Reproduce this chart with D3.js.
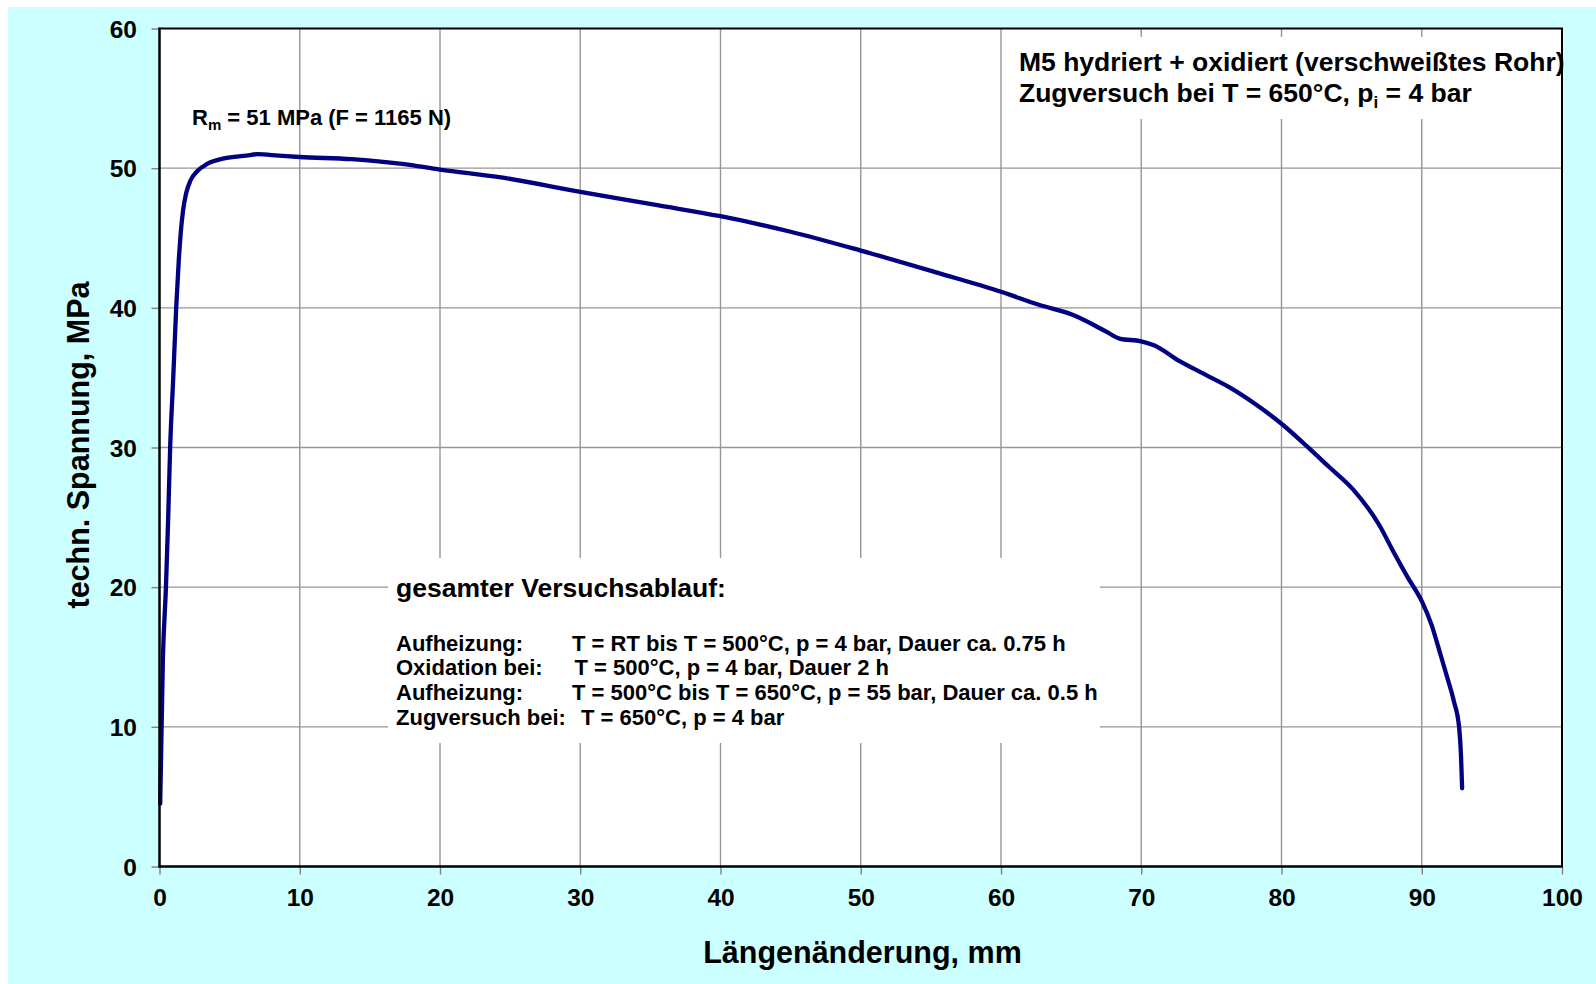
<!DOCTYPE html>
<html><head><meta charset="utf-8">
<script src="https://cdn.jsdelivr.net/npm/d3@7"></script>
<style>
body{margin:0;background:#fff}
svg{display:block}
text{font-family:"Liberation Sans",Arial,sans-serif;font-weight:bold;fill:#000}
</style>
</head><body>
<svg id="chart" width="1596" height="984"></svg>
<script>
// ---------------- data ----------------
const strain = [0.05, 0.24, 0.46, 0.62, 0.76, 0.98, 1.19, 1.38, 1.5, 1.67, 1.9, 2.2, 2.7, 3.4, 4.6, 6.2, 7.0, 8.5, 10.0, 13.7, 17.3, 20.0, 24.6, 30.0, 35.5, 40.0, 45.0, 50.0, 55.5, 60.0, 62.75, 65.1, 67.5, 68.45, 70.0, 70.95, 72.7, 74.6, 76.3, 78.0, 80.0, 81.8, 83.4, 85.1, 87.0, 88.0, 89.0, 90.0, 90.7, 91.3, 91.8, 92.3, 92.66, 92.8, 92.88];
const stress = [4.5, 14.8, 20.0, 25.0, 30.0, 35.0, 40.0, 43.5, 45.2, 46.9, 48.2, 49.1, 49.8, 50.3, 50.7, 50.9, 51.0, 50.9, 50.8, 50.64, 50.3, 49.9, 49.3, 48.3, 47.35, 46.56, 45.45, 44.1, 42.5, 41.15, 40.2, 39.5, 38.3, 37.8, 37.6, 37.3, 36.2, 35.2, 34.3, 33.2, 31.7, 30.1, 28.6, 27.0, 24.4, 22.5, 20.7, 19.0, 17.3, 15.3, 13.6, 11.8, 10.0, 7.9, 5.6];
const xTicks = [0, 10, 20, 30, 40, 50, 60, 70, 80, 90, 100];
const yTicks = [0, 10, 20, 30, 40, 50, 60];
const xTitle = "Längenänderung, mm";
const yTitle = "techn. Spannung, MPa";
const titleLine1 = "M5 hydriert + oxidiert (verschweißtes Rohr)";
const titleLine2 = ["Zugversuch bei T = 650°C, p", "i", " = 4 bar"];
const rmLabel = ["R", "m", " = 51 MPa (F = 1165 N)"];
const procHeading = "gesamter Versuchsablauf:";
const procLabels = ["Aufheizung:", "Oxidation bei:", "Aufheizung:", "Zugversuch bei:"];
const procValues = ["T = RT bis T = 500°C, p = 4 bar, Dauer ca. 0.75 h", "T = 500°C, p = 4 bar, Dauer 2 h", "T = 500°C bis T = 650°C, p = 55 bar, Dauer ca. 0.5 h", "T = 650°C, p = 4 bar"];

// ---------------- layout ----------------
const W = 1596, H = 984;
const L = 159.5, R = 1562, T = 28.5, B = 866.5;
const svg = d3.select("#chart");
const x = d3.scaleLinear().domain([0, 100]).range([L, R]);
const y = d3.scaleLinear().domain([0, 60]).range([B, T]);

svg.append("rect").attr("x", 0).attr("y", 0).attr("width", W).attr("height", H).attr("fill", "#fff");
svg.append("rect").attr("x", 8).attr("y", 7).attr("width", W - 8).attr("height", H - 7).attr("fill", "#CCFFFF");
svg.append("rect").attr("x", L).attr("y", T).attr("width", R - L).attr("height", B - T).attr("fill", "#fff");

// grid
const grid = svg.append("g").attr("stroke", "#969696").attr("stroke-width", 1.4);
grid.selectAll("line.v").data(xTicks.filter(d => d > 0 && d < 100)).enter().append("line")
  .attr("x1", d => x(d)).attr("x2", d => x(d)).attr("y1", T).attr("y2", B);
grid.selectAll("line.h").data(yTicks.filter(d => d > 0 && d < 60)).enter().append("line")
  .attr("x1", L).attr("x2", R).attr("y1", d => y(d)).attr("y2", d => y(d));

// white annotation boxes covering grid
svg.append("rect").attr("x", 1010).attr("y", 37).attr("width", R - 1010).attr("height", 82).attr("fill", "#fff");
svg.append("rect").attr("x", 388).attr("y", 558).attr("width", 712).attr("height", 185).attr("fill", "#fff");

// curve
const pts = strain.map((s, i) => [s, stress[i]]);
svg.append("path").datum(pts)
  .attr("fill", "none").attr("stroke", "#000080").attr("stroke-width", 4.3)
  .attr("stroke-linejoin", "round").attr("stroke-linecap", "round")
  .attr("d", d3.line().x(d => x(d[0])).y(d => y(d[1])).curve(d3.curveMonotoneX));

// axes (ticks + labels)
const yAxis = svg.append("g").attr("transform", `translate(${L},0)`)
  .call(d3.axisLeft(y).tickValues(yTicks).tickSize(8).tickPadding(14.5).tickFormat(d3.format("d")));
const xAxis = svg.append("g").attr("transform", `translate(0,${B})`)
  .call(d3.axisBottom(x).tickValues(xTicks).tickSize(8).tickFormat(d3.format("d")));
[yAxis, xAxis].forEach(a => {
  a.select(".domain").remove();
  a.selectAll(".tick line").attr("stroke", "#808080").attr("stroke-width", 1.4);
  a.selectAll(".tick text").attr("font-size", 24.5).attr("font-family", null).style("font-family", '"Liberation Sans",Arial,sans-serif').style("font-weight", "bold").attr("fill", "#000");
});
xAxis.selectAll(".tick text").attr("y", 39.5).attr("dy", 0);
yAxis.selectAll(".tick text").attr("dy", "0.35em");

// plot border
const border = svg.append("g").attr("stroke", "#000").attr("fill", "none");
border.append("line").attr("x1", L).attr("x2", L).attr("y1", T - 1).attr("y2", B + 1).attr("stroke-width", 2.5);
border.append("line").attr("x1", L - 1).attr("x2", R + 1).attr("y1", B).attr("y2", B).attr("stroke-width", 2.5);
border.append("line").attr("x1", L).attr("x2", R + 1).attr("y1", T).attr("y2", T).attr("stroke-width", 2);
border.append("line").attr("x1", R).attr("x2", R).attr("y1", T).attr("y2", B).attr("stroke-width", 2);

// axis titles
svg.append("text").attr("x", 862.5).attr("y", 963).attr("text-anchor", "middle").attr("font-size", 30.5).text(xTitle);
svg.append("text").attr("transform", "translate(89,445) rotate(-90)").attr("text-anchor", "middle").attr("font-size", 30.5).text(yTitle);

// title box
svg.append("text").attr("x", 1019).attr("y", 71).attr("font-size", 26.5).text(titleLine1);
const t2 = svg.append("text").attr("x", 1019).attr("y", 102).attr("font-size", 26.5);
t2.append("tspan").text(titleLine2[0]);
t2.append("tspan").attr("font-size", 17).attr("dy", 6).text(titleLine2[1]);
t2.append("tspan").attr("dy", -6).text(titleLine2[2]);

// Rm label
const rm = svg.append("text").attr("x", 192).attr("y", 125).attr("font-size", 22);
rm.append("tspan").text(rmLabel[0]);
rm.append("tspan").attr("font-size", 15).attr("dy", 5).text(rmLabel[1]);
rm.append("tspan").attr("dy", -5).text(rmLabel[2]);

// procedure box
svg.append("text").attr("x", 396).attr("y", 597).attr("font-size", 26.5).text(procHeading);
const valueX = [572, 574.5, 572, 581];
const lineY = [650.5, 675, 699.5, 724.5];
procLabels.forEach((lab, i) => {
  svg.append("text").attr("x", 396).attr("y", lineY[i]).attr("font-size", 22).text(lab);
  svg.append("text").attr("x", valueX[i]).attr("y", lineY[i]).attr("font-size", 22).text(procValues[i]);
});
</script>
</body></html>
